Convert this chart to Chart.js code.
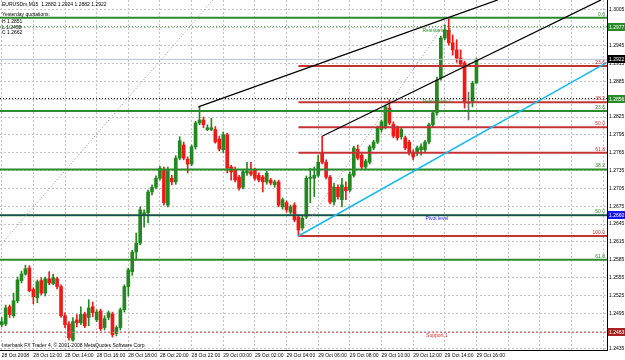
<!DOCTYPE html>
<html>
<head>
<meta charset="utf-8">
<script src="https://cdn.jsdelivr.net/npm/chart.js@4.4.0/dist/chart.umd.min.js"></script>
<style>
    html, body { margin: 0; padding: 0; background: #fff; }
    #wrap { width: 625px; height: 360px; }
</style>
</head>
<body>
<div id="wrap"><canvas id="grafico" width="625" height="360"></canvas></div>
<script>
// EURUSDm M15, 28 Oct 10:00 -> 29 Oct 16:00 (one entry per bar)
const opens = [1.2476,1.2477,1.2506,1.2491,1.2516,1.2550,1.2561,1.2571,1.2535,1.2521,1.2550,1.2529,1.2553,1.2545,1.2553,1.2540,1.2491,1.2477,1.2450,1.2484,
    1.2479,1.2494,1.2488,1.2506,1.2484,1.2499,1.2471,1.2488,1.2494,1.2461,1.2471,1.2501,1.2540,1.2565,1.2598,1.2613,1.2660,1.2664,1.2699,1.2707,
    1.2722,1.2737,1.2677,1.2722,1.2716,1.2756,1.2778,1.2754,1.2746,1.2775,1.2815,1.2820,1.2804,1.2804,1.2804,1.2788,1.2770,1.2795,1.2741,1.2737,
    1.2724,1.2707,1.2731,1.2733,1.2736,1.2727,1.2724,1.2716,1.2719,1.2711,1.2716,1.2674,1.2681,1.2665,1.2677,1.2657,1.2639,1.2657,1.2722,1.2722,
    1.2727,1.2765,1.2749,1.2724,1.2682,1.2707,1.2686,1.2707,1.2702,1.2727,1.2771,1.2761,1.2741,1.2749,1.2773,1.2783,1.2804,1.2809,1.2840,1.2813,
    1.2807,1.2792,1.2790,1.2783,1.2765,1.2765,1.2770,1.2770,1.2783,1.2812,1.2832,1.2891,1.2958,1.2971,1.2950,1.2938,1.2924,1.2916,1.2848,1.2850,
    1.2882];
const highs = [1.2488,1.2509,1.2509,1.2529,1.2556,1.2566,1.2576,1.2575,1.2538,1.2551,1.2555,1.2556,1.2565,1.2561,1.2556,1.2543,1.2496,1.2481,1.2488,1.2493,
    1.2506,1.2497,1.2518,1.2514,1.2501,1.2502,1.2491,1.2499,1.2497,1.2474,1.2504,1.2543,1.2571,1.2601,1.2630,1.2674,1.2669,1.2702,1.2711,1.2726,
    1.2742,1.2741,1.2741,1.2727,1.2760,1.2792,1.2783,1.2758,1.2778,1.2818,1.2842,1.2825,1.2812,1.2823,1.2809,1.2793,1.2800,1.2798,1.2744,1.2741,
    1.2727,1.2736,1.2749,1.2749,1.2739,1.2731,1.2727,1.2734,1.2722,1.2719,1.2719,1.2689,1.2684,1.2677,1.2681,1.2660,1.2659,1.2726,1.2739,1.2741,
    1.2761,1.2793,1.2753,1.2727,1.2714,1.2711,1.2722,1.2716,1.2733,1.2776,1.2778,1.2766,1.2754,1.2778,1.2786,1.2810,1.2820,1.2845,1.2854,1.2817,
    1.2810,1.2807,1.2793,1.2786,1.2770,1.2776,1.2780,1.2786,1.2815,1.2835,1.2892,1.2961,1.2980,1.2992,1.2963,1.2955,1.2938,1.2919,1.2867,1.2885,
    1.2924];
const lows = [1.2472,1.2474,1.2488,1.2488,1.2513,1.2546,1.2559,1.2531,1.2511,1.2513,1.2526,1.2524,1.2543,1.2543,1.2536,1.2488,1.2471,1.2450,1.2448,1.2472,
    1.2476,1.2471,1.2474,1.2489,1.2481,1.2466,1.2467,1.2484,1.2455,1.2457,1.2467,1.2497,1.2524,1.2559,1.2585,1.2610,1.2640,1.2647,1.2694,1.2704,
    1.2719,1.2677,1.2674,1.2711,1.2712,1.2753,1.2753,1.2731,1.2743,1.2771,1.2812,1.2807,1.2802,1.2802,1.2781,1.2768,1.2765,1.2731,1.2719,1.2716,
    1.2702,1.2704,1.2727,1.2726,1.2719,1.2716,1.2699,1.2712,1.2711,1.2707,1.2674,1.2670,1.2665,1.2662,1.2649,1.2625,1.2635,1.2654,1.2681,1.2691,
    1.2724,1.2746,1.2721,1.2679,1.2677,1.2687,1.2674,1.2686,1.2699,1.2724,1.2753,1.2737,1.2737,1.2746,1.2770,1.2780,1.2800,1.2805,1.2812,1.2790,
    1.2786,1.2788,1.2770,1.2761,1.2753,1.2760,1.2761,1.2766,1.2780,1.2809,1.2828,1.2887,1.2955,1.2946,1.2929,1.2917,1.2911,1.2840,1.2820,1.2842,
    1.2882];
const closes = [1.2481,1.2504,1.2493,1.2516,1.2551,1.2561,1.2570,1.2533,1.2523,1.2548,1.2529,1.2553,1.2546,1.2555,1.2540,1.2491,1.2476,1.2454,1.2481,1.2479,
    1.2493,1.2474,1.2504,1.2496,1.2497,1.2469,1.2486,1.2496,1.2459,1.2471,1.2501,1.2540,1.2568,1.2598,1.2613,1.2669,1.2664,1.2699,1.2707,1.2722,
    1.2739,1.2681,1.2737,1.2716,1.2756,1.2785,1.2756,1.2746,1.2775,1.2815,1.2820,1.2812,1.2807,1.2807,1.2783,1.2771,1.2795,1.2739,1.2733,1.2719,
    1.2706,1.2733,1.2734,1.2729,1.2722,1.2719,1.2716,1.2731,1.2714,1.2716,1.2677,1.2686,1.2669,1.2674,1.2652,1.2635,1.2655,1.2722,1.2724,1.2727,
    1.2749,1.2749,1.2724,1.2682,1.2707,1.2691,1.2711,1.2701,1.2729,1.2773,1.2756,1.2741,1.2751,1.2775,1.2783,1.2807,1.2817,1.2842,1.2815,1.2793,
    1.2790,1.2804,1.2773,1.2766,1.2758,1.2773,1.2775,1.2783,1.2812,1.2832,1.2887,1.2958,1.2971,1.2950,1.2938,1.2924,1.2914,1.2849,1.2848,1.2882,
    1.2922];

// eje de tiempo: una etiqueta cada 8 barras (2 horas)
const timeLabels = ['28 Oct 2008','28 Oct 12:00','28 Oct 14:00','28 Oct 16:00','28 Oct 18:00','28 Oct 20:00','28 Oct 22:00','29 Oct 00:00',
    '29 Oct 02:00','29 Oct 04:00','29 Oct 06:00','29 Oct 08:00','29 Oct 10:00','29 Oct 12:00','29 Oct 14:00','29 Oct 16:00'];
const gridBars = [0,8,16,24,32,40,48,56,64,72,80,88,96,104,112,120,128,136,144,152];
const priceTicks = [1.2435,1.2465,1.2495,1.2525,1.2555,1.2585,1.2615,1.2645,1.2675,1.2705,1.2735,1.2765,1.2795,1.2825,1.2855,1.2885,1.2915,1.2945,1.2975,1.3005];

// niveles de Fibonacci
const greenFibLevels = [1.2992, 1.2835, 1.2737, 1.2660, 1.2585];
const greenFibNames = ['0.0', '23.6', '38.2', '50.0', '61.8'];
const redFibLevels = [1.2911, 1.2850, 1.2808, 1.2765, 1.2625];
const redFibNames = ['23.6', '38.2', '50.0', '61.8', '100.0'];
const redFibStart = 75;

// pivotes de ayer
const pivotNames = ['Resistance 2', 'Resistance 1', 'Pivot level', 'Support 1'];
const pivotLevels = [1.2977, 1.2856, 1.2660, 1.2463];
const pivotTextBar = 110;
const bidPrice = 1.2922;

// lineas de tendencia [barra, precio]
const trendA = [[49.7, 1.2842], [125.4, 1.3022]];
const trendB = [[81.1, 1.2793], [151.5, 1.3022]];
const blueTrend = [[75, 1.2625], [153, 1.2917]];
const redFibLine = [[75, 1.2625], [113, 1.2992]];
const greenFibLine = [[-0.4, 1.2609], [53.4, 1.3022]];

const headerLines = ['EURUSDm,M15  1.2882 1.2924 1.2882 1.2922', 'Yesterday quotations:', 'H 1.2851', 'L 1.2458', 'C 1.2662'];
const copyright = 'Interbank FX Trader 4, \u00a9 2001-2008 MetaQuotes Software Corp.';

const X_MIN = -0.43, X_MAX = 153.0;
const Y_MIN = 1.24333, Y_MAX = 1.30218;

const verde = '#23881f';
const rojo = '#f01818';
const verdeFib = '#2b8a2b';
const rojoFib = '#c23434';
const fuente = '"Liberation Sans", Arial, sans-serif';

const barras = opens.map((_, i) => i);
const colorVela = i => closes[i] > opens[i] ? verde : (closes[i] < opens[i] ? rojo : '#707070');

function segmento(puntos, color, ancho, dash, orden) {
    return {
        type: 'line',
        data: puntos.map(p => ({ x: p[0], y: p[1] })),
        borderColor: color,
        borderWidth: ancho,
        borderDash: dash || [],
        pointRadius: 0,
        fill: false,
        tension: 0,
        order: orden === undefined ? 2 : orden
    };
}

const datasets = [];

// velas
datasets.push({
    type: 'bar',
    data: barras.map(i => ({ x: i, y: [lows[i], highs[i]] })),
    backgroundColor: barras.map(colorVela),
    borderWidth: 0,
    grouped: false,
    barThickness: 1,
    maxBarThickness: 1,
    order: 30
});
datasets.push({
    type: 'bar',
    data: barras.map(i => ({ x: i, y: [Math.min(opens[i], closes[i]), Math.max(opens[i], closes[i])] })),
    backgroundColor: barras.map(colorVela),
    borderWidth: 0,
    grouped: false,
    barThickness: 3,
    maxBarThickness: 3,
    minBarLength: 1,
    order: 20
});

// fibo verde, ancho completo
greenFibLevels.forEach(v => datasets.push(segmento([[X_MIN, v], [X_MAX, v]], verdeFib, 2, null, 5)));
// fibo rojo, desde el minimo
redFibLevels.forEach(v => datasets.push(segmento([[redFibStart, v], [X_MAX, v]], rojoFib, 2, null, 4)));

// pivotes
datasets.push(segmento([[X_MIN, pivotLevels[0]], [X_MAX, pivotLevels[0]]], '#3a9a3a', 1, [1, 2], 3));
datasets.push(segmento([[X_MIN, pivotLevels[1]], [X_MAX, pivotLevels[1]]], '#000000', 1, [1, 2], 3));
datasets.push(segmento([[X_MIN, pivotLevels[2]], [X_MAX, pivotLevels[2]]], '#14306a', 1, null, 3));
datasets.push(segmento([[X_MIN, pivotLevels[3]], [X_MAX, pivotLevels[3]]], '#e05a5a', 1, [2, 2], 3));
datasets.push(segmento([[X_MIN, bidPrice], [X_MAX, bidPrice]], '#b8c4d4', 1, null, 6));

// tendencias
datasets.push(segmento(trendA, '#000000', 1.2));
datasets.push(segmento(trendB, '#000000', 1.2));
datasets.push(segmento(blueTrend, '#1ab8f0', 1.5));
datasets.push(segmento(redFibLine, '#909090', 1, [1, 2]));
datasets.push(segmento(greenFibLine, '#909090', 1, [1, 2]));

const anotaciones = {
    id: 'anotaciones',
    afterDatasetsDraw(chart) {
        const { ctx, chartArea, scales: { x, y } } = chart;
        ctx.save();
        ctx.font = '5px ' + fuente;
        ctx.textAlign = 'right';
        ctx.textBaseline = 'bottom';
        greenFibLevels.forEach((v, k) => {
            ctx.fillStyle = verdeFib;
            ctx.fillText(greenFibNames[k], chartArea.right - 2, y.getPixelForValue(v) - 1);
        });
        redFibLevels.forEach((v, k) => {
            ctx.fillStyle = rojoFib;
            ctx.fillText(redFibNames[k], chartArea.right - 2, y.getPixelForValue(v) - 1);
        });
        const coloresTexto = ['#2b8a2b', '#2b8a2b', '#1010ff', '#d03030'];
        ctx.textAlign = 'center';
        ctx.textBaseline = 'top';
        pivotNames.forEach((n, k) => {
            ctx.fillStyle = coloresTexto[k];
            ctx.fillText(n, x.getPixelForValue(pivotTextBar), y.getPixelForValue(pivotLevels[k]) + 1);
        });
        ctx.restore();
    },
    afterDraw(chart) {
        const { ctx, chartArea, scales: { y } } = chart;
        ctx.save();
        ctx.font = '5px ' + fuente;
        // cajas de precio en el eje
        const cajas = [
            [pivotLevels[0], '#2b8a2b'],
            [bidPrice, '#000000'],
            [pivotLevels[1], '#2b8a2b'],
            [pivotLevels[2], '#1414f0'],
            [pivotLevels[3], '#a82020']
        ];
        ctx.textAlign = 'left';
        ctx.textBaseline = 'middle';
        cajas.forEach(c => {
            const py = Math.round(y.getPixelForValue(c[0]));
            ctx.fillStyle = c[1];
            ctx.fillRect(chartArea.right + 1, py - 4, 18, 8);
            ctx.fillStyle = '#ffffff';
            ctx.fillText(c[0].toFixed(4), chartArea.right + 2, py + 0.5);
        });
        // textos de cabecera
        ctx.fillStyle = '#000000';
        ctx.textBaseline = 'middle';
        const ys = [5, 15, 22, 28, 33];
        headerLines.forEach((t, k) => ctx.fillText(t, 2, ys[k]));
        ctx.fillText(copyright, 2, chartArea.bottom - 4);
        ctx.restore();
    }
};

new Chart(document.getElementById('grafico'), {
    type: 'line',
    data: { datasets: datasets },
    options: {
        responsive: false,
        animation: false,
        layout: { padding: 0 },
        plugins: { legend: { display: false }, tooltip: { enabled: false } },
        scales: {
            x: {
                type: 'linear',
                min: X_MIN,
                max: X_MAX,
                offset: false,
                afterBuildTicks: s => { s.ticks = gridBars.map(v => ({ value: v })); },
                afterFit: s => { s.height = 10; s.paddingLeft = 0; s.paddingRight = 0; },
                ticks: {
                    autoSkip: false,
                    maxRotation: 0,
                    align: 'start',
                    padding: 3,
                    color: '#000',
                    font: { size: 5, family: fuente },
                    callback: (v, k) => timeLabels[k] || ''
                },
                grid: { color: '#c4c4c4', drawTicks: false, offset: false },
                border: { display: true, color: '#000', width: 1, dash: [2, 2] }
            },
            y: {
                type: 'linear',
                position: 'right',
                min: Y_MIN,
                max: Y_MAX,
                afterBuildTicks: s => { s.ticks = priceTicks.map(v => ({ value: v })); },
                afterFit: s => { s.width = 18; s.paddingTop = 0; s.paddingBottom = 0; },
                ticks: {
                    padding: 2,
                    color: '#000',
                    font: { size: 5, family: fuente },
                    callback: v => Number(v).toFixed(4)
                },
                grid: { color: '#c4c4c4', drawTicks: false },
                border: { display: true, color: '#000', width: 1, dash: [2, 2] }
            }
        }
    },
    plugins: [anotaciones]
});
</script>
</body>
</html>
